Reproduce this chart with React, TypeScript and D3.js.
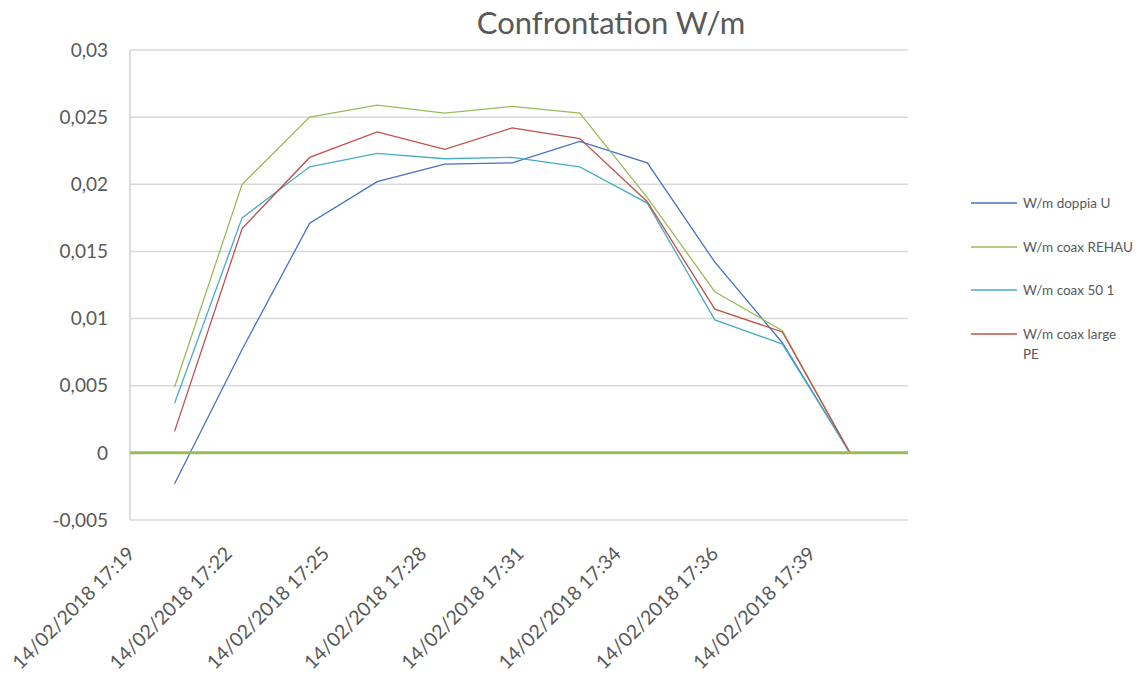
import React from "react";
import * as d3 from "d3";

// ---- data ----
const times = ["17:21", "17:23", "17:25", "17:27", "17:29", "17:31", "17:33", "17:35", "17:37", "17:39", "17:41"];
const doppiaU = [-0.0023, 0.0077, 0.0171, 0.0202, 0.0215, 0.0216, 0.0232, 0.0216, 0.0142, 0.0082, 0];
const coaxRehau = [0.0049, 0.02, 0.025, 0.0259, 0.0253, 0.0258, 0.0253, 0.019, 0.012, 0.0091, 0];
const coax501 = [0.0037, 0.0175, 0.0213, 0.0223, 0.0219, 0.022, 0.0213, 0.0186, 0.0099, 0.0081, 0];
const coaxLargePE = [0.0016, 0.0167, 0.022, 0.0239, 0.0226, 0.0242, 0.0234, 0.0187, 0.0107, 0.009, 0];
const seriesNames = ["W/m doppia U", "W/m coax REHAU", "W/m coax 50 1", "W/m coax large PE"];
const seriesColors = ["#4472C4", "#9BBB59", "#4BACC6", "#C0504D"];
const yTicks = [-0.005, 0, 0.005, 0.01, 0.015, 0.02, 0.025, 0.03];
const xTickLabels = [
  "14/02/2018 17:19",
  "14/02/2018 17:22",
  "14/02/2018 17:25",
  "14/02/2018 17:28",
  "14/02/2018 17:31",
  "14/02/2018 17:34",
  "14/02/2018 17:36",
  "14/02/2018 17:39",
];
// Excel date axis (in days): min 0.722, max 0.738, major unit 0.002
const axisMinDay = 0.722;
const axisMaxDay = 0.738;
const majorUnitDay = 0.002;

const toMin = (t: string) => {
  const [h, m] = t.split(":").map(Number);
  return h * 60 + m;
};

export default function App() {
  const W = 1140, H = 679;
  const left = 130, right = 908, top = 50, bottom = 520;
  const x = d3.scaleLinear().domain([axisMinDay * 1440, axisMaxDay * 1440]).range([left, right]);
  const y = d3.scaleLinear().domain([-0.005, 0.03]).range([bottom, top]);
  const font = "Lato, 'Open Sans', sans-serif";
  const textColor = "#595959";

  const allSeries = [doppiaU, coaxRehau, coax501, coaxLargePE];
  const line = d3
    .line<number>()
    .x((_, i) => x(toMin(times[i])))
    .y((d) => y(d));

  const fmt = (v: number) => String(+v.toFixed(4)).replace(".", ",");

  const legendY = [203, 247, 290, 334];

  return (
    <div style={{ position: "fixed", left: 0, top: 0 }}>
      <svg width={W} height={H} style={{ display: "block", background: "#fff" }}>
        <text x={611} y={34} textAnchor="middle" fontFamily={font} fontSize={31} fill={textColor}>
          Confrontation W/m
        </text>
        {/* gridlines */}
        {yTicks.map((t) => (
          <line key={t} x1={left} x2={right} y1={y(t)} y2={y(t)} stroke="#d9d9d9" strokeWidth={1.5} />
        ))}
        {/* y axis line */}
        <line x1={left} x2={left} y1={top} y2={bottom} stroke="#d9d9d9" strokeWidth={1.8} />
        {/* y labels */}
        {yTicks.map((t) => (
          <text
            key={"l" + t}
            x={108}
            y={y(t)}
            dy="0.35em"
            textAnchor="end"
            fontFamily={font}
            fontSize={19}
            fill={textColor}
          >
            {fmt(t)}
          </text>
        ))}
        {/* x labels */}
        {xTickLabels.map((lab, i) => {
          const px = x((axisMinDay + i * majorUnitDay) * 1440) + 6;
          const py = 555;
          return (
            <text
              key={lab}
              x={px}
              y={py}
              textAnchor="end"
              transform={`rotate(-45 ${px} ${py})`}
              fontFamily={font}
              fontSize={19.5}
              fill={textColor}
            >
              {lab}
            </text>
          );
        })}
        {/* series lines */}
        {allSeries.map((s, k) => (
          <path key={k} d={line(s) || ""} fill="none" stroke={seriesColors[k]} strokeWidth={1.3} />
        ))}
        {/* zero axis line */}
        <line x1={left} x2={right} y1={y(0)} y2={y(0)} stroke="#9BBB59" strokeWidth={3} />
        {/* legend */}
        {seriesNames.map((n, k) => {
          const parts = n === "W/m coax large PE" ? ["W/m coax large", "PE"] : [n];
          return (
            <g key={n}>
              <line x1={971} x2={1017} y1={legendY[k]} y2={legendY[k]} stroke={seriesColors[k]} strokeWidth={1.3} />
              <text x={1023} y={legendY[k]} fontFamily={font} fontSize={13.5} fill={textColor}>
                {parts.map((p, j) => (
                  <tspan key={j} x={1023} dy={j === 0 ? "0.35em" : 20}>
                    {p}
                  </tspan>
                ))}
              </text>
            </g>
          );
        })}
      </svg>
    </div>
  );
}
